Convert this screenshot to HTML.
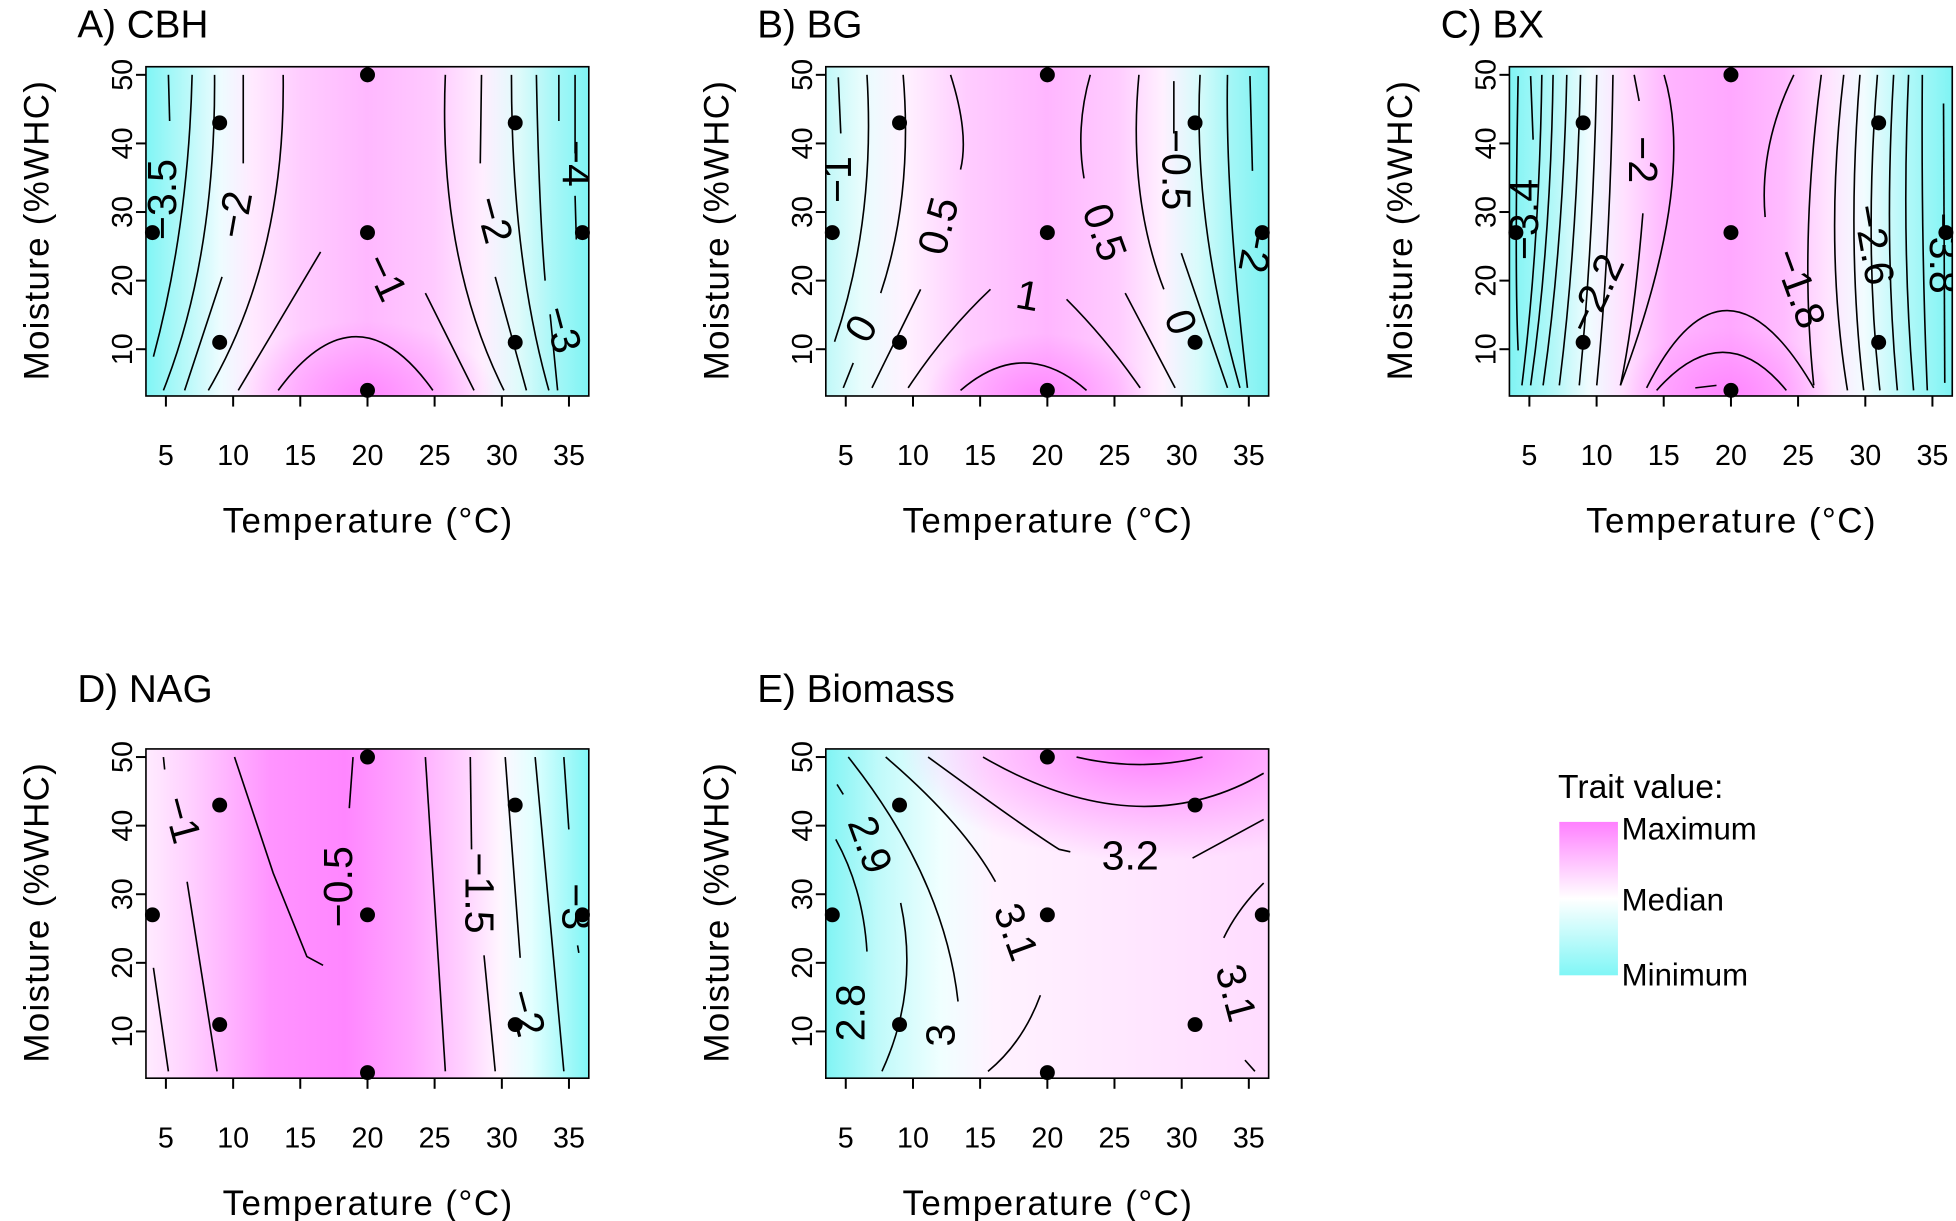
<!DOCTYPE html>
<html><head><meta charset="utf-8"><style>
html,body{margin:0;padding:0;background:#fff;}
svg{display:block;}
text{font-family:"Liberation Sans",sans-serif;fill:#000;}
.tk{font-size:23px;}
.ax{font-size:28px;}
.tt{font-size:31px;}
.cl{font-size:33px;}
.c path{fill:none;stroke:#000;stroke-width:1.3;}
</style></head><body>
<svg width="1956" height="1221" viewBox="0 0 1568 979" preserveAspectRatio="none" xmlns="http://www.w3.org/2000/svg">
<defs>
<clipPath id="box" clipPathUnits="userSpaceOnUse"><rect x="0" y="-3.5" width="355" height="264"/></clipPath>
<linearGradient id="gA" x1="0" x2="1" y1="0" y2="0">
<stop offset="0" stop-color="#80f5f5"/><stop offset="0.09" stop-color="#b8f9f9"/><stop offset="0.17" stop-color="#eefcff"/><stop offset="0.24" stop-color="#ffeaff"/><stop offset="0.35" stop-color="#ffccff"/><stop offset="0.5" stop-color="#ffb8ff"/><stop offset="0.65" stop-color="#ffcaff"/><stop offset="0.76" stop-color="#ffeeff"/><stop offset="0.84" stop-color="#e0fbfb"/><stop offset="0.92" stop-color="#a8f7f7"/><stop offset="1" stop-color="#7ff4f4"/>
</linearGradient>
<linearGradient id="gB" x1="0" x2="1" y1="0" y2="0">
<stop offset="0" stop-color="#c0f8f8"/><stop offset="0.08" stop-color="#e8fdfd"/><stop offset="0.18" stop-color="#fff2ff"/><stop offset="0.32" stop-color="#ffccff"/><stop offset="0.5" stop-color="#ffb6ff"/><stop offset="0.66" stop-color="#ffccff"/><stop offset="0.76" stop-color="#fff0ff"/><stop offset="0.84" stop-color="#d8fbfb"/><stop offset="0.92" stop-color="#a0f6f6"/><stop offset="1" stop-color="#7ef2f2"/>
</linearGradient>
<linearGradient id="gC" x1="0" x2="1" y1="0" y2="0">
<stop offset="0" stop-color="#80f4f4"/><stop offset="0.1" stop-color="#b4f8f8"/><stop offset="0.18" stop-color="#f0fcff"/><stop offset="0.26" stop-color="#ffe0ff"/><stop offset="0.36" stop-color="#ffb4ff"/><stop offset="0.5" stop-color="#ffa8ff"/><stop offset="0.62" stop-color="#ffbcff"/><stop offset="0.72" stop-color="#ffe4ff"/><stop offset="0.8" stop-color="#f2fcff"/><stop offset="0.9" stop-color="#b0f8f8"/><stop offset="1" stop-color="#7ff4f4"/>
</linearGradient>
<linearGradient id="gD" x1="0" x2="1" y1="0" y2="0">
<stop offset="0" stop-color="#ffecff"/><stop offset="0.1" stop-color="#ffd0ff"/><stop offset="0.28" stop-color="#ff94ff"/><stop offset="0.45" stop-color="#ff86ff"/><stop offset="0.6" stop-color="#ffa8ff"/><stop offset="0.72" stop-color="#ffd2ff"/><stop offset="0.8" stop-color="#fff6ff"/><stop offset="0.87" stop-color="#e4ffff"/><stop offset="1" stop-color="#80f6f6"/>
</linearGradient>
<linearGradient id="gE" x1="0" x2="1" y1="0" y2="0">
<stop offset="0" stop-color="#80f4f4"/><stop offset="0.12" stop-color="#c0fafa"/><stop offset="0.26" stop-color="#f0ffff"/><stop offset="0.38" stop-color="#fff2ff"/><stop offset="1" stop-color="#ffdcff"/>
</linearGradient>
<radialGradient id="rBot" cx="0.5" cy="1" r="0.5">
<stop offset="0" stop-color="#ff80ff" stop-opacity="0.85"/><stop offset="1" stop-color="#ff80ff" stop-opacity="0"/>
</radialGradient>
<radialGradient id="rTop" cx="0.5" cy="0" r="0.5">
<stop offset="0" stop-color="#ff80ff" stop-opacity="1"/><stop offset="1" stop-color="#ff80ff" stop-opacity="0"/>
</radialGradient>
<linearGradient id="leg" x1="0" x2="0" y1="0" y2="1">
<stop offset="0" stop-color="#ff80ff"/><stop offset="0.5" stop-color="#ffffff"/><stop offset="1" stop-color="#80f6f6"/>
</linearGradient>
<g id="axes">
<g stroke="#000" stroke-width="1.6">
<line x1="16" y1="260.5" x2="16" y2="269"/><line x1="69.9" y1="260.5" x2="69.9" y2="269"/><line x1="123.7" y1="260.5" x2="123.7" y2="269"/><line x1="177.6" y1="260.5" x2="177.6" y2="269"/><line x1="231.4" y1="260.5" x2="231.4" y2="269"/><line x1="285.3" y1="260.5" x2="285.3" y2="269"/><line x1="339.1" y1="260.5" x2="339.1" y2="269"/>
<line x1="0" y1="3" x2="-8" y2="3"/><line x1="0" y1="58" x2="-8" y2="58"/><line x1="0" y1="113" x2="-8" y2="113"/><line x1="0" y1="168" x2="-8" y2="168"/><line x1="0" y1="223" x2="-8" y2="223"/>
</g>
<g class="tk" text-anchor="middle">
<text x="16" y="316">5</text><text x="69.9" y="316">10</text><text x="123.7" y="316">15</text><text x="177.6" y="316">20</text><text x="231.4" y="316">25</text><text x="285.3" y="316">30</text><text x="339.1" y="316">35</text>
<text transform="translate(-11,3) rotate(-90)">50</text><text transform="translate(-11,58) rotate(-90)">40</text><text transform="translate(-11,113) rotate(-90)">30</text><text transform="translate(-11,168) rotate(-90)">20</text><text transform="translate(-11,223) rotate(-90)">10</text>
</g>
<text class="ax" x="177.5" y="370" text-anchor="middle" textLength="232">Temperature (°C)</text>
<text class="ax" transform="translate(-78,128) rotate(-90)" text-anchor="middle" textLength="240">Moisture (%WHC)</text>
<rect x="0" y="-3.5" width="355" height="264" fill="none" stroke="#000" stroke-width="1.3"/>
</g>
<g id="pts" fill="#000">
<circle cx="5.2" cy="129.5" r="6"/><circle cx="59.1" cy="41.5" r="6"/><circle cx="59.1" cy="217.5" r="6"/><circle cx="177.6" cy="3" r="6"/><circle cx="177.6" cy="129.5" r="6"/><circle cx="177.6" cy="256" r="6"/><circle cx="296" cy="41.5" r="6"/><circle cx="296" cy="217.5" r="6"/><circle cx="349.9" cy="129.5" r="6"/>
</g>
</defs>

<!-- A -->
<text class="tt" x="62" y="30">A) CBH</text>
<g transform="translate(117,57)">
<g clip-path="url(#box)">
<rect x="0" y="-3.5" width="355" height="264" fill="url(#gA)"/>
<rect x="70" y="140" width="210" height="120.5" fill="url(#rBot)"/>
<g class="c">
<path d="M18,3 L19,40"/>
<path d="M37,3 Q34,125 6,229"/>
<path d="M55,3 Q56,150 14,256"/>
<path d="M78,3 L78,74 M61,165 L31,256"/>
<path d="M110,3 Q112,150 50,256"/>
<path d="M140,145 L74,256"/>
<path d="M106,256 Q169,170 230,256"/>
<path d="M224,178 L263,256"/>
<path d="M240,3 Q234,150 287,256"/>
<path d="M269,3 L268,74 M280,165 L305,256"/>
<path d="M293,3 Q293,150 323,256"/>
<path d="M313,3 Q315,110 320,168 M324,195 L330,256"/>
<path d="M331,3 L331,40"/>
<path d="M344,3 L344,66 M344,100 L345,135"/>
</g>
<g class="cl" text-anchor="middle">
<text transform="translate(24,103) rotate(-90)">−3.5</text>
<text transform="translate(82,117) rotate(-80)">−2</text>
<text transform="translate(182,170) rotate(65)">−1</text>
<text transform="translate(268,122) rotate(75)">−2</text>
<text transform="translate(334,74) rotate(90)">−4</text>
<text transform="translate(323,210) rotate(75)">−3</text>
</g>
</g>
<use href="#pts"/>
<use href="#axes"/>
</g>

<!-- B -->
<text class="tt" x="607" y="30">B) BG</text>
<g transform="translate(662,57)">
<g clip-path="url(#box)">
<rect x="0" y="-3.5" width="355" height="264" fill="url(#gB)"/>
<rect x="80" y="160" width="180" height="100.5" fill="url(#rBot)"/>
<g class="c">
<path d="M10,5 L12,50"/>
<path d="M33,3 Q40,120 7,217"/>
<path d="M62,3 Q70,100 44,178"/>
<path d="M100,3 Q115,50 108,79"/>
<path d="M76,175 L37,254"/>
<path d="M22,234 L14,254"/>
<path d="M132,175 Q95,210 66,254"/>
<path d="M108,256 Q159,212 209,256"/>
<path d="M193,183 Q225,215 252,254"/>
<path d="M212,3 Q200,45 207,86"/>
<path d="M251,3 Q242,100 271,175"/>
<path d="M240,178 L280,254"/>
<path d="M279,8 L279,50"/>
<path d="M285,146 L322,254"/>
<path d="M300,3 Q294,120 332,254"/>
<path d="M322,3 Q320,100 338,254"/>
<path d="M340,4 L342,80"/>
</g>
<g class="cl" text-anchor="middle">
<text transform="translate(20,87) rotate(-90)">−1</text>
<text transform="translate(101,127) rotate(-75)">0.5</text>
<text transform="translate(213,133) rotate(70)">0.5</text>
<text transform="translate(160,191) rotate(10)">1</text>
<text transform="translate(38,212) rotate(-60)">0</text>
<text transform="translate(274,205) rotate(70)">0</text>
<text transform="translate(270,79) rotate(90)">−0.5</text>
<text transform="translate(334,141) rotate(100)">−2</text>
</g>
</g>
<use href="#pts"/>
<use href="#axes"/>
</g>

<!-- C -->
<text class="tt" x="1155" y="30">C) BX</text>
<g transform="translate(1210,57)">
<g clip-path="url(#box)">
<rect x="0" y="-3.5" width="355" height="264" fill="url(#gC)"/>
<rect x="90" y="150" width="170" height="110.5" fill="url(#rBot)"/>
<g class="c">
<path d="M7,4 Q4,160 7,224"/>
<path d="M17,4 L19,55"/>
<path d="M26,3 Q24,140 10,252"/>
<path d="M35,3 Q33,140 17,252"/>
<path d="M46,3 Q43,140 27,252"/>
<path d="M57,3 Q54,140 40,252"/>
<path d="M70,3 Q67,140 56,252"/>
<path d="M83,3 Q81,140 70,252"/>
<path d="M100,3 L104,24"/>
<path d="M107,114 Q100,200 89,252"/>
<path d="M124,3 Q150,90 89,252"/>
<path d="M110,254 Q172,130 244,254"/>
<path d="M118,256 Q172,195 222,256"/>
<path d="M149,254 L166,252"/>
<path d="M228,3 Q200,60 205,117"/>
<path d="M250,3 Q232,140 244,252"/>
<path d="M268,3 Q252,140 271,256"/>
<path d="M281,3 Q270,140 284,256"/>
<path d="M295,3 Q284,140 297,256"/>
<path d="M308,3 Q300,140 311,256"/>
<path d="M320,3 Q314,140 324,256"/>
<path d="M331,3 Q330,140 335,256"/>
<path d="M348,26 L349,250"/>
</g>
<g class="cl" text-anchor="middle">
<text transform="translate(23,119) rotate(-90)">−3.4</text>
<text transform="translate(96,71) rotate(90)">−2</text>
<text transform="translate(79,183) rotate(-65)">−2.2</text>
<text transform="translate(222,178) rotate(70)">−1.8</text>
<text transform="translate(281,141) rotate(80)">−2.6</text>
<text transform="translate(337,146) rotate(90)">−3.8</text>
</g>
</g>
<use href="#pts"/>
<use href="#axes"/>
</g>

<!-- D -->
<text class="tt" x="62" y="563">D) NAG</text>
<g transform="translate(117,604)">
<g clip-path="url(#box)">
<rect x="0" y="-3.5" width="355" height="264" fill="url(#gD)"/>
<g class="c">
<path d="M14,3 L15,13"/>
<path d="M33,103 L57,255"/>
<path d="M6,172 L18,255"/>
<path d="M71,3 L102,96 L129,163 L142,170"/>
<path d="M166,3 L163,44"/>
<path d="M224,3 L240,255"/>
<path d="M260,3 L261,77"/>
<path d="M271,162 L280,255"/>
<path d="M288,3 L300,164"/>
<path d="M312,3 L335,255"/>
<path d="M335,3 L339,61"/>
<path d="M346,154 L347,160"/>
</g>
<g class="cl" text-anchor="middle">
<text transform="translate(18,56) rotate(75)">−1</text>
<text transform="translate(165,107) rotate(-90)">−0.5</text>
<text transform="translate(256,112) rotate(90)">−1.5</text>
<text transform="translate(294,211) rotate(75)">−2</text>
<text transform="translate(334,123) rotate(90)">−3</text>
</g>
</g>
<use href="#pts"/>
<use href="#axes"/>
</g>

<!-- E -->
<text class="tt" x="607" y="563">E) Biomass</text>
<g transform="translate(662,604)">
<g clip-path="url(#box)">
<rect x="0" y="-3.5" width="355" height="264" fill="url(#gE)"/>
<rect x="60" y="-3.5" width="400" height="180" fill="url(#rTop)"/>
<g class="c">
<path d="M201,3 Q252,15 302,3"/>
<path d="M126,3 Q250,75 351,16"/>
<path d="M82,3 Q160,60 187,77 L196,79"/>
<path d="M294,84 L351,53"/>
<path d="M48,3 Q110,56 136,103"/>
<path d="M18,3 Q95,100 106,199"/>
<path d="M9,25 L14,33"/>
<path d="M8,69 Q30,109 33,159"/>
<path d="M60,120 Q75,190 45,255"/>
<path d="M172,194 Q158,232 130,255"/>
<path d="M351,104 Q330,125 319,148"/>
<path d="M336,246 L344,255"/>
</g>
<g class="cl" text-anchor="middle">
<text transform="translate(25,77) rotate(70)">2.9</text>
<text transform="translate(31,208) rotate(-90)">2.8</text>
<text transform="translate(103,226) rotate(-90)">3</text>
<text transform="translate(142,147) rotate(70)">3.1</text>
<text transform="translate(244,93)">3.2</text>
<text transform="translate(318,195) rotate(75)">3.1</text>
</g>
</g>
<use href="#pts"/>
<use href="#axes"/>
</g>

<!-- Legend -->
<text x="1249" y="640" style="font-size:27px">Trait value:</text>
<rect x="1250" y="659" width="47" height="123" fill="url(#leg)"/>
<text x="1300" y="673" style="font-size:25px">Maximum</text>
<text x="1300" y="730" style="font-size:25px">Median</text>
<text x="1300" y="790" style="font-size:25px">Minimum</text>
</svg>
</body></html>
